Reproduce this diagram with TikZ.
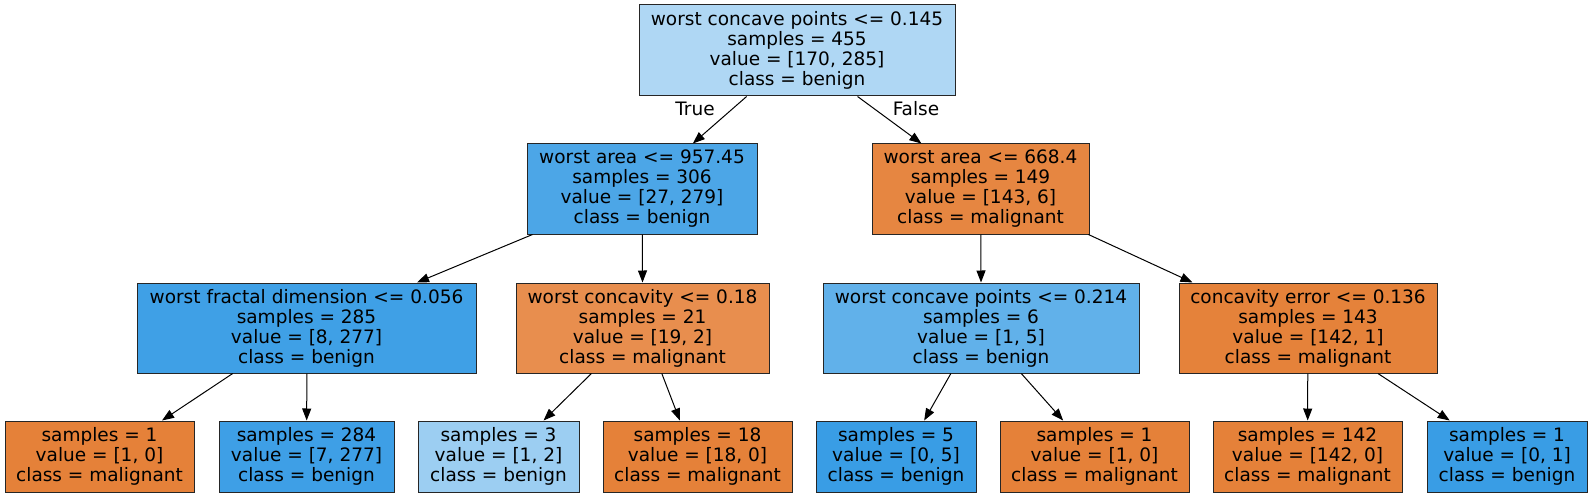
\documentclass[tikz,border=0pt]{standalone}
\usepackage{fontspec}
\setmainfont{DejaVu Sans}
\usetikzlibrary{calc,arrows.meta}
\definecolor{cRoot}{HTML}{AFD7F4}
\definecolor{cA}{HTML}{4CA6E7}
\definecolor{cB}{HTML}{E68641}
\definecolor{cC}{HTML}{3FA0E6}
\definecolor{cD}{HTML}{E88E4E}
\definecolor{cE}{HTML}{61B1EA}
\definecolor{cF}{HTML}{E5823A}
\definecolor{cOr}{HTML}{E58139}
\definecolor{cBl}{HTML}{399DE5}
\definecolor{cG}{HTML}{3E9FE6}
\definecolor{cH}{HTML}{9CCEF2}
\tikzset{
  x=1pt,y=1pt,
  tnode/.style={draw=black!85,line width=1pt,rectangle,inner sep=0pt,align=center,
     font=\fontsize{18.5}{20}\selectfont},
  tedge/.style={line width=1pt,-{Triangle[length=12pt,width=9pt]}},
  lbl/.style={font=\fontsize{18.5}{20}\selectfont,inner sep=0pt}
}
\newcommand{\bt}[3]{($(#1.south west)!#2!(#1.south east)$)}
\newcommand{\tp}[2]{($(#1.north west)!#2!(#1.north east)$)}
\begin{document}
\begin{tikzpicture}
\useasboundingbox (0,0) rectangle (1592,-497);
% root
\node[tnode,fill=cRoot,minimum width=316pt,minimum height=91pt] (r) at (797,-50.5)
 {worst concave points <= 0.145\\samples = 455\\value = [170, 285]\\class = benign};
% level 1
\node[tnode,fill=cA,minimum width=230pt,minimum height=90pt] (a) at (642,-189)
 {worst area <= 957.45\\samples = 306\\value = [27, 279]\\class = benign};
\node[tnode,fill=cB,minimum width=217pt,minimum height=90pt] (b) at (980.5,-189)
 {worst area <= 668.4\\samples = 149\\value = [143, 6]\\class = malignant};
% level 2
\node[tnode,fill=cC,minimum width=339pt,minimum height=90pt] (c) at (306.5,-328)
 {worst fractal dimension <= 0.056\\samples = 285\\value = [8, 277]\\class = benign};
\node[tnode,fill=cD,minimum width=253pt,minimum height=90pt] (d) at (642.5,-328)
 {worst concavity <= 0.18\\samples = 21\\value = [19, 2]\\class = malignant};
\node[tnode,fill=cE,minimum width=316pt,minimum height=90pt] (e) at (981,-328)
 {worst concave points <= 0.214\\samples = 6\\value = [1, 5]\\class = benign};
\node[tnode,fill=cF,minimum width=258pt,minimum height=90pt] (f) at (1308,-328)
 {concavity error <= 0.136\\samples = 143\\value = [142, 1]\\class = malignant};
% leaves
\node[tnode,fill=cOr,minimum width=189pt,minimum height=71pt] (l1) at (99.5,-456.5)
 {samples = 1\\value = [1, 0]\\class = malignant};
\node[tnode,fill=cG,minimum width=175pt,minimum height=71pt] (l2) at (306.5,-456.5)
 {samples = 284\\value = [7, 277]\\class = benign};
\node[tnode,fill=cH,minimum width=161pt,minimum height=71pt] (l3) at (498.5,-456.5)
 {samples = 3\\value = [1, 2]\\class = benign};
\node[tnode,fill=cOr,minimum width=189pt,minimum height=71pt] (l4) at (697.5,-456.5)
 {samples = 18\\value = [18, 0]\\class = malignant};
\node[tnode,fill=cBl,minimum width=160pt,minimum height=71pt] (l5) at (896,-456.5)
 {samples = 5\\value = [0, 5]\\class = benign};
\node[tnode,fill=cOr,minimum width=189pt,minimum height=71pt] (l6) at (1094.5,-456.5)
 {samples = 1\\value = [1, 0]\\class = malignant};
\node[tnode,fill=cOr,minimum width=189pt,minimum height=71pt] (l7) at (1307.5,-456.5)
 {samples = 142\\value = [142, 0]\\class = malignant};
\node[tnode,fill=cBl,minimum width=160pt,minimum height=71pt] (l8) at (1507,-456.5)
 {samples = 1\\value = [0, 1]\\class = benign};
% edges
\draw[tedge] \bt{r}{0.341}{} -- \tp{a}{0.720};
\draw[tedge] \bt{r}{0.691}{} -- \tp{b}{0.229};
\draw[tedge] \bt{a}{0.026}{} -- \tp{c}{0.825};
\draw[tedge] \bt{a}{0.502}{} -- \tp{d}{0.5};
\draw[tedge] \bt{b}{0.502}{} -- \tp{e}{0.5};
\draw[tedge] \bt{b}{0.995}{} -- \tp{f}{0.054};
\draw[tedge] \bt{c}{0.283}{} -- \tp{l1}{0.829};
\draw[tedge] \bt{c}{0.501}{} -- \tp{l2}{0.501};
\draw[tedge] \bt{d}{0.299}{} -- \tp{l3}{0.778};
\draw[tedge] \bt{d}{0.576}{} -- \tp{l4}{0.407};
\draw[tedge] \bt{e}{0.405}{} -- \tp{l5}{0.675};
\draw[tedge] \bt{e}{0.627}{} -- \tp{l6}{0.335};
\draw[tedge] \bt{f}{0.499}{} -- \tp{l7}{0.501};
\draw[tedge] \bt{f}{0.770}{} -- \tp{l8}{0.144};
% labels
\node[lbl] (tl) at (695,-109) {True};
\node[lbl] (fl) at (916,-109) {False};
\end{tikzpicture}
\end{document}
